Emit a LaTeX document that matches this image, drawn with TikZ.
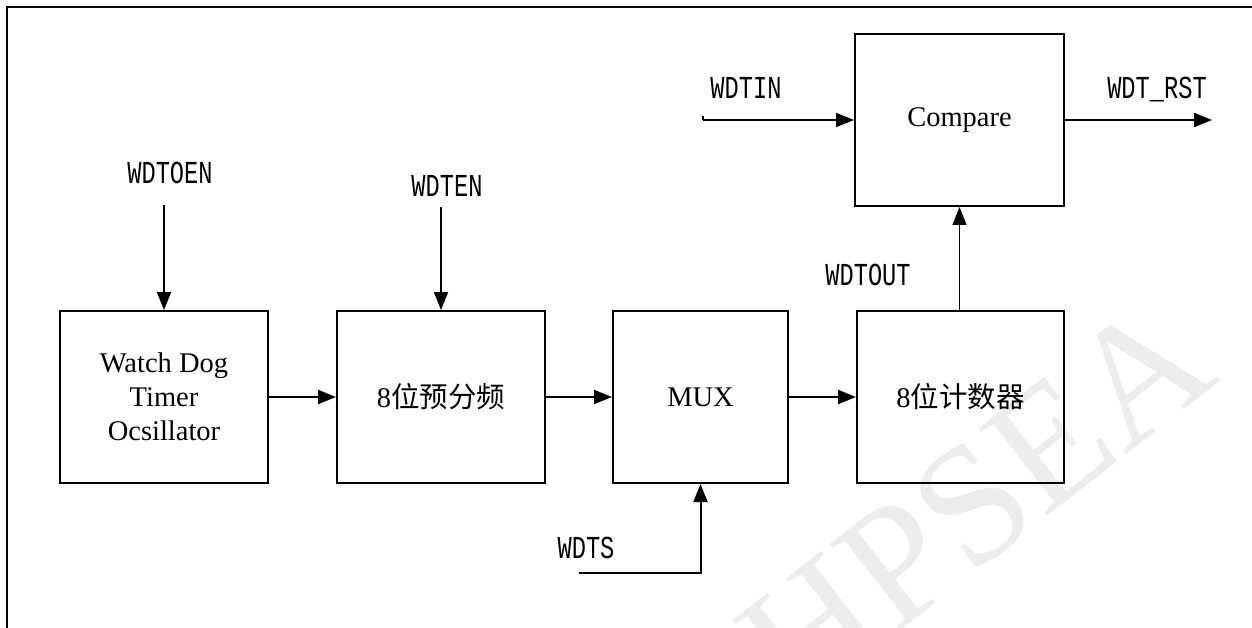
\documentclass[tikz,border=0pt]{standalone}
\usepackage{fontspec}
\setmainfont{Liberation Serif}
\newfontfamily\cjk{Noto Sans CJK SC}
\newfontfamily\monof{Liberation Mono}
\usetikzlibrary{arrows.meta}
\newcommand{\sig}[1]{{\monof\fontsize{32}{32}\selectfont\scalebox{0.74}[1]{#1}}}
\tikzset{
  blk/.style={draw, line width=2pt, minimum height=172pt, inner sep=0pt, align=center,
              font=\fontsize{28.5}{34}\selectfont},
  conn/.style={line width=2pt, -{Triangle[length=18pt,width=14pt]}},
  plain/.style={line width=2pt},
  lbl/.style={inner sep=0pt},
}
\begin{document}
\begin{tikzpicture}[x=1pt,y=-1pt]
\useasboundingbox (0,0) rectangle (1252,628);
% watermark
\begin{scope}
\clip (0,0) rectangle (1252,628);
\node[text=black!7, rotate=38, font=\fontsize{170}{170}\selectfont] (wm) at (976,502) {HPSEA};
\end{scope}
% frame
\draw[line width=2.4pt] (7,628) -- (7,7) -- (1252,7);
% blocks
\node[blk, minimum width=208pt] (osc) at (164,397) {Watch Dog\\Timer\\Ocsillator};
\node[blk, minimum width=208pt] (pre) at (441,397) {8{\cjk 位预分频}};
\node[blk, minimum width=175pt] (mux) at (700.5,397) {MUX};
\node[blk, minimum width=207pt] (cnt) at (960.5,397) {8{\cjk 位计数器}};
\node[blk, minimum width=209pt] (cmp) at (959.5,120) {Compare};
% labels
\node[lbl] (lOEN) at (170,173) {\sig{WDTOEN}};
\node[lbl] (lEN) at (447,186) {\sig{WDTEN}};
\node[lbl] (lIN) at (746,88) {\sig{WDTIN}};
\node[lbl] (lRST) at (1157,90) {\sig{WDT\_RST}};
\node[lbl] (lOUT) at (868,275) {\sig{WDTOUT}};
\node[lbl] (lS) at (586,548) {\sig{WDTS}};
% free ends
\coordinate (oenS) at (164,205);
\coordinate (enS) at (441,207);
\coordinate (inS) at (703,120);
\coordinate (rstE) at (1212,120);
\coordinate (sS) at (579,573);
% connectors
\draw[conn] (oenS) -- (osc.north);
\draw[conn] (enS) -- (pre.north);
\draw[conn] (osc.east) -- (pre.west);
\draw[conn] (pre.east) -- (mux.west);
\draw[conn] (mux.east) -- (cnt.west);
\draw[conn, line width=1.6pt] (cnt.north -| cmp.south) -- (cmp.south);
\draw[conn] (inS) -- (cmp.west);
\draw[plain] (inS) -- ++(0,-4);
\draw[conn] (cmp.east) -- (rstE);
\draw[conn] (sS) -| (mux.south);
\end{tikzpicture}
\end{document}
